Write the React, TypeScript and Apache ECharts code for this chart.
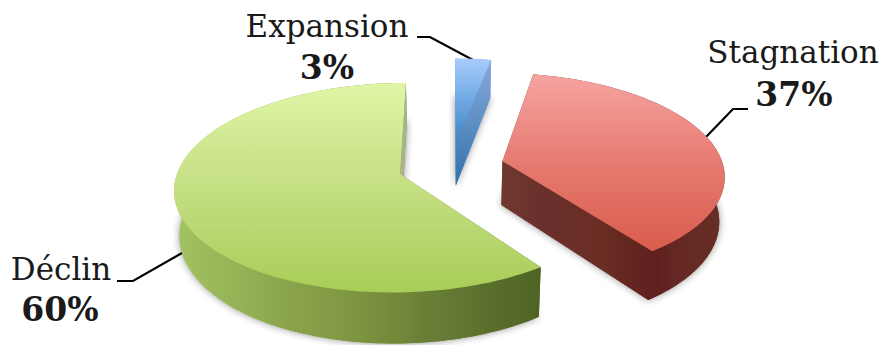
import React, { useEffect, useRef } from "react";
import * as echarts from "echarts";

// Parc d'entreprises par tendance, in percent, clockwise from twelve o'clock.
const CATEGORIES = ["Expansion", "Stagnation", "Déclin"];
const SHARES = [3, 37, 60];

// Projection of the tilted disc: plane coordinates are in disc radii.
const CENTER_X = 451;
const CENTER_Y = 166.5;
const RADIUS_X = 221;
const RADIUS_Y = 101;
const PERSPECTIVE = 0.129;
const THICKNESS = 44;
const BOTTOM_SHRINK = 0.02;
const EXPLODE = 0.24;

const FONT = "'DejaVu Serif', serif";

type Stop = [number, string];
const stops = (list: Stop[]) => list.map(([offset, color]) => ({ offset, color }));
const linear = (x: number, y: number, x2: number, y2: number, list: Stop[]) => ({
  type: "linear",
  x,
  y,
  x2,
  y2,
  global: true,
  colorStops: stops(list),
});

const TOP_FILLS = [
  linear(0, 59, 0, 143, [
    [0, "#a8ccfa"],
    [0.5, "#6ea8e4"],
    [1, "#3d83bf"],
  ]),
  linear(0, 76, 0, 250, [
    [0, "#f6a3a0"],
    [0.5, "#e67a70"],
    [1, "#d95d4e"],
  ]),
  linear(0, 84, 0, 293, [
    [0, "#e0f6a6"],
    [0.5, "#c4de82"],
    [1, "#a9cd57"],
  ]),
];

const SIDE_FILLS = [
  linear(0, 60, 0, 183, [
    [0, "#86a8d8"],
    [0.5, "#5f8fc4"],
    [1, "#2f74ab"],
  ]),
  linear(503, 0, 723, 0, [
    [0, "#70392f"],
    [0.18, "#6a2f2b"],
    [0.45, "#6a2e24"],
    [0.68, "#5f201d"],
    [0.8, "#662824"],
    [1, "#652f24"],
  ]),
  linear(175, 0, 538, 0, [
    [0, "#a3c361"],
    [0.25, "#90aa50"],
    [0.5, "#7d9540"],
    [0.72, "#677c34"],
    [1, "#4f6324"],
  ]),
];

// Radial wall at each slice's closing edge; the green one shows as a pale sliver.
const END_WALL_FILLS = [SIDE_FILLS[0], SIDE_FILLS[1], "#a9b48a"];

const FLOOR_SHADOW = { shadowBlur: 7, shadowColor: "rgba(40,40,40,0.55)" };

const project = (u: number, v: number, drop: number): number[] => {
  const w = 1 - PERSPECTIVE * v;
  const spread = 1 - BOTTOM_SHRINK * drop;
  return [
    CENTER_X + (RADIUS_X * u * spread) / w,
    CENTER_Y + (RADIUS_Y * v + THICKNESS * drop) / w,
  ];
};

// Builds the faces of one slice from its share of the disc.
const renderSlice = (params: any, api: any) => {
  const index = params.dataIndex;
  const before = SHARES.slice(0, index).reduce((sum, value) => sum + value, 0);
  const total = SHARES.reduce((sum, value) => sum + value, 0);
  const start = (before / total) * Math.PI * 2;
  const end = ((before + api.value(1)) / total) * Math.PI * 2;
  const mid = (start + end) / 2;
  const originU = EXPLODE * Math.sin(mid);
  const originV = -EXPLODE * Math.cos(mid);

  const edge = (angle: number): number[] => [
    originU + Math.sin(angle),
    originV - Math.cos(angle),
  ];

  const steps = Math.max(4, Math.ceil((end - start) * 40));
  const arc: number[][] = [];
  for (let i = 0; i <= steps; i++) {
    arc.push(edge(start + ((end - start) * i) / steps));
  }

  const at = (plane: number[], drop: number) => project(plane[0], plane[1], drop);
  const apex = [originU, originV];

  const radialFace = (rim: number[], fill: any) => ({
    type: "polygon",
    shape: { points: [at(apex, 0), at(rim, 0), at(rim, 1), at(apex, 1)] },
    style: { fill },
  });

  return {
    type: "group",
    children: [
      {
        type: "polygon",
        shape: { points: [at(apex, 1), ...arc.map((p) => at(p, 1))] },
        style: { fill: SIDE_FILLS[index], ...FLOOR_SHADOW },
      },
      radialFace(arc[0], SIDE_FILLS[index]),
      {
        type: "polygon",
        shape: {
          points: [...arc.map((p) => at(p, 0)), ...arc.slice().reverse().map((p) => at(p, 1))],
        },
        style: { fill: SIDE_FILLS[index] },
      },
      radialFace(arc[arc.length - 1], END_WALL_FILLS[index]),
      {
        type: "polygon",
        shape: { points: [at(apex, 0), ...arc.map((p) => at(p, 0))] },
        style: { fill: TOP_FILLS[index] },
      },
    ],
  };
};

// Text is anchored by its top edge, so the baseline is converted here.
const label = (text: string, x: number, baseline: number, weight: number, size: number) => ({
  type: "text",
  x,
  y: baseline - Math.round(size * 0.87),
  style: {
    text,
    fill: "#1a1a1a",
    font: `${weight} ${size}px ${FONT}`,
    textAlign: "center",
  },
});

const leader = (points: number[][]) => ({
  type: "polyline",
  shape: { points },
  style: { fill: "none", stroke: "#000000", lineWidth: 2.2 },
});

export default function App() {
  const ref = useRef<HTMLDivElement>(null);

  useEffect(() => {
    const chart = echarts.init(ref.current!, undefined, { renderer: "svg" });
    chart.setOption({
      animation: false,
      backgroundColor: "#ffffff",
      series: [
        {
          type: "custom",
          coordinateSystem: "none",
          silent: true,
          clip: false,
          renderItem: renderSlice,
          data: SHARES.map((value, index) => [index, value]),
        },
      ],
      graphic: [
        label(CATEGORIES[0], 327, 37, 400, 31),
        label(`${SHARES[0]}%`, 327, 80, 700, 33),
        label(CATEGORIES[1], 793, 63, 400, 31),
        label(`${SHARES[1]}%`, 794, 107, 700, 33),
        label(CATEGORIES[2], 61, 280, 400, 31),
        label(`${SHARES[2]}%`, 60, 322, 700, 33),
        leader([
          [417, 37],
          [430, 37],
          [473, 60],
        ]),
        leader([
          [748, 109],
          [733, 109],
          [705, 138],
        ]),
        leader([
          [117, 281],
          [133, 281],
          [182, 253],
        ]),
      ],
    });
    return () => chart.dispose();
  }, []);

  return (
    <div
      ref={ref}
      style={{ position: "absolute", left: 0, top: 0, width: 884, height: 345 }}
    />
  );
}
